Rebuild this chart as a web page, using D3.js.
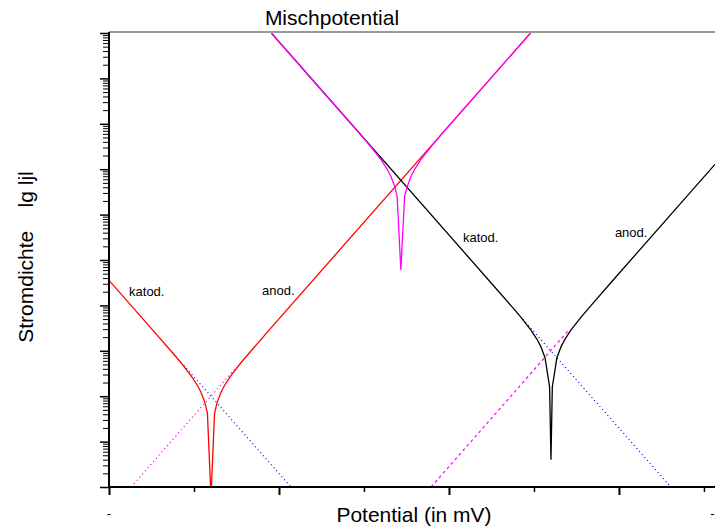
<!DOCTYPE html>
<html>
<head>
<meta charset="utf-8">
<script src="https://cdn.jsdelivr.net/npm/d3@7"></script>
<style>
  body { margin: 0; background: #fff; }
  svg { display: block; font-family: "Liberation Sans", Arial, sans-serif; }
</style>
</head>
<body>
<script>
// potential in mV, current density |i| (arbitrary units, log axis)
let redE   = [-300, -275.3, -263.5, -257.6, -251.8, -248.2, -245.9, -243.5, -242.1, -240, -237.9, -236.5, -234.1, -231.8, -228.3, -222.4, -216.5, -204.8, -52];
let redI   = [3.57e4, 3.16e3, 990, 545, 284, 179, 122, 70.5, 41.8, 0.6, 41.8, 70.5, 122, 179, 284, 545, 990, 3.16e3, 1e10];

let blackE = [-204.5, -75.3, -63.5, -57.6, -51.8, -48.2, -45.9, -43.5, -40.8, -40, -39.2, -36.5, -34.1, -31.8, -28.3, -22.4, -16.5, -4.8, 56.5];
let blackI = [1e10, 3.16e4, 9.9e3, 5.45e3, 2.84e3, 1.79e3, 1.22e3, 705, 161, 4, 161, 705, 1.22e3, 1.79e3, 2.84e3, 5.45e3, 9.9e3, 3.16e4, 1.28e7];

let mixE   = [-204.5, -163.5, -151.8, -145.9, -140.0, -136.5, -134.1, -131.8, -130.5, -128.3, -126.1, -124.7, -122.4, -120.0, -116.5, -110.6, -104.8, -93.0, -52];
let mixI   = [1e10, 1.80e8, 5.63e7, 3.10e7, 1.62e7, 1.02e7, 6.92e6, 4.01e6, 2.48e6, 6.03e4, 2.48e6, 4.01e6, 6.92e6, 1.02e7, 1.62e7, 3.10e7, 5.63e7, 1.80e8, 1e10];

// Tafel extensions
let redAnE  = [-287, -226];   let redAnI  = [1, 398];
let redKatE = [-256, -193];   let redKatI = [480, 1];
let blkAnE  = [-110.5, -29];  let blkAnI  = [1, 3.0e3];
let blkKatE = [-56.5, 30.5];  let blkKatI = [5.0e3, 1];

let xMajor = [-300, -200, -100, 0];
let xMinor = [-250, -150, -50, 50];
let xTickLabels = [["-", -300], ["-", 55]];

let labels = [
  { text: "katod.", E: -288.2, i: 1.61e4 },
  { text: "anod.",  E: -210.0, i: 1.69e4 },
  { text: "katod.", E: -91.8,  i: 2.49e5 },
  { text: "anod.",  E: -2.4,   i: 3.21e5 }
];

let w = 715, h = 529;
let mLeft = 109, mRight = 715, mTop = 33, mBottom = 487;

let svg = d3.select("body").append("svg").attr("width", w).attr("height", h);

let x = d3.scaleLinear().domain([-300, 56.5]).range([mLeft, mRight]);
let y = d3.scaleLog().domain([1, 1e10]).range([mBottom, mTop]);

svg.append("defs").append("clipPath").attr("id", "plot")
  .append("rect").attr("x", mLeft).attr("y", mTop).attr("width", mRight - mLeft).attr("height", mBottom - mTop);

let g = svg.append("g").attr("clip-path", "url(#plot)");

function zip(es, is) {
  return es.map(function(e, k) { return [e, is[k]]; });
}

let line = d3.line()
  .x(function(d) { return x(d[0]); })
  .y(function(d) { return y(Math.max(d[1], 0.01)); });

function draw(es, is, color, width, dash) {
  g.append("path")
    .datum(zip(es, is))
    .attr("d", line)
    .attr("fill", "none")
    .attr("stroke", color)
    .attr("stroke-width", width)
    .attr("stroke-dasharray", dash || null);
}

draw(redAnE, redAnI, "#ff00ff", 1.2, "1.2,3");
draw(redKatE, redKatI, "#0000ff", 1.2, "1,3");
draw(blkAnE, blkAnI, "#ff00ff", 1.2, "3,3");
draw(blkKatE, blkKatI, "#0000ff", 1.2, "1,3");
draw(redE, redI, "#ff0000", 1.3);
draw(blackE, blackI, "#000000", 1.3);
draw(mixE, mixI, "#ff00ff", 1.3);

// top border
svg.append("line")
  .attr("x1", mLeft).attr("x2", mRight).attr("y1", mTop - 1).attr("y2", mTop - 1)
  .attr("stroke", "#777").attr("stroke-width", 1.5);

// y axis (log): majors and minors
let yAll = y.ticks(100);
let yMajor = yAll.filter(function(v) { return Math.abs(Math.log10(v) - Math.round(Math.log10(v))) < 1e-9; });
let yMinor = yAll.filter(function(v) { return yMajor.indexOf(v) < 0; });

let ya1 = svg.append("g").attr("transform", "translate(" + mLeft + ",0)")
  .call(d3.axisLeft(y).tickValues(yMinor).tickSize(6).tickFormat(""));
let ya2 = svg.append("g").attr("transform", "translate(" + mLeft + ",0)")
  .call(d3.axisLeft(y).tickValues(yMajor).tickSize(9).tickFormat(""));
ya1.selectAll(".tick line").attr("stroke", "#000").attr("stroke-width", 1);
ya2.selectAll(".tick line").attr("stroke", "#000").attr("stroke-width", 1.5);
ya1.select(".domain").remove();
ya2.select(".domain").attr("stroke-width", 2).attr("d", "M0," + (mBottom + 1) + "V" + (mTop - 1));

// x axis
let xa1 = svg.append("g").attr("transform", "translate(0," + mBottom + ")")
  .call(d3.axisBottom(x).tickValues(xMinor).tickSize(5).tickFormat(""));
let xa2 = svg.append("g").attr("transform", "translate(0," + mBottom + ")")
  .call(d3.axisBottom(x).tickValues(xMajor).tickSize(8).tickFormat(""));
xa1.selectAll(".tick line").attr("stroke-width", 1.5);
xa2.selectAll(".tick line").attr("stroke-width", 2);
xa1.select(".domain").remove();
xa2.select(".domain").attr("stroke-width", 2).attr("d", "M" + (mLeft - 1) + ",0H" + mRight);

svg.selectAll("text.xtl")
  .data(xTickLabels)
  .enter()
  .append("text")
  .attr("class", "xtl")
  .attr("x", function(d) { return x(d[1]); })
  .attr("y", 518)
  .attr("text-anchor", "middle")
  .attr("font-size", "13px")
  .text(function(d) { return d[0]; });

// curve labels
svg.selectAll("text.lbl")
  .data(labels)
  .enter()
  .append("text")
  .attr("class", "lbl")
  .attr("x", function(d) { return x(d.E); })
  .attr("y", function(d) { return y(d.i); })
  .attr("font-size", "13px")
  .text(function(d) { return d.text; });

// titles
svg.append("text")
  .attr("x", 332).attr("y", 25)
  .attr("text-anchor", "middle")
  .attr("font-size", "21px")
  .text("Mischpotential");

svg.append("text")
  .attr("x", 414).attr("y", 522)
  .attr("text-anchor", "middle")
  .attr("font-size", "21px")
  .text("Potential (in mV)");

svg.append("text")
  .attr("transform", "translate(33,257) rotate(-90)")
  .attr("text-anchor", "middle")
  .attr("font-size", "21px")
  .style("white-space", "pre")
  .text("Stromdichte    lg ljl");
</script>
</body>
</html>
